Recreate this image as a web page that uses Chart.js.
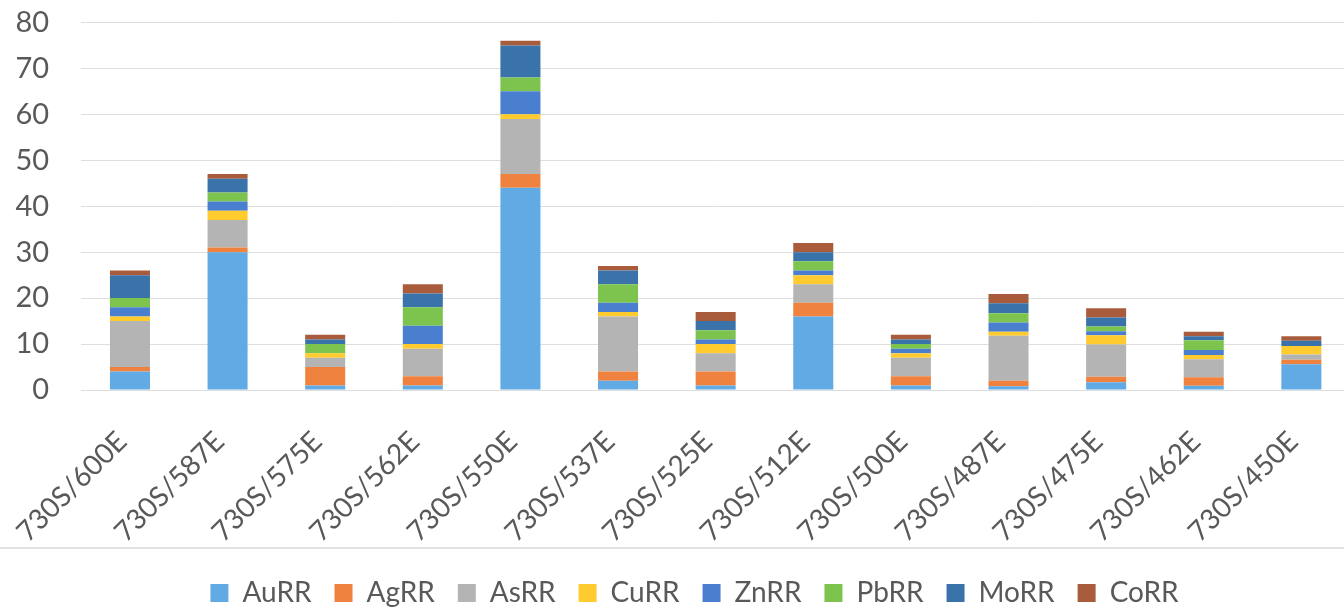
<!DOCTYPE html>
<html>
<head>
<meta charset="utf-8">
<script src="https://cdn.jsdelivr.net/npm/chart.js@4/dist/chart.umd.min.js"></script>
<style>
  html, body { margin: 0; padding: 0; background: #ffffff; overflow: hidden; }
  #wrap { position: relative; width: 1344px; height: 612px; overflow: hidden; }
  #c { position: absolute; left: 0; top: -27px; }
</style>
</head>
<body>
<div id="wrap"><canvas id="c" width="1352" height="644"></canvas></div>
<script>
// Sample stations along line 730S
const categories = ['730S/600E','730S/587E','730S/575E','730S/562E','730S/550E','730S/537E','730S/525E','730S/512E','730S/500E','730S/487E','730S/475E','730S/462E','730S/450E'];

// Relative responses per element
const auRR = [4, 30, 1, 1, 44, 2, 1, 16, 1, 0.8, 1.7, 0.9, 5.6];
const agRR = [1, 1, 4, 2, 3, 2, 3, 3, 2, 1.2, 1.2, 1.9, 1];
const asRR = [10, 6, 2, 6, 12, 12, 4, 4, 4, 9.8, 7, 3.9, 1.1];
const cuRR = [1, 2, 1, 1, 1, 1, 2, 2, 1, 0.9, 2, 0.9, 1.9];
const znRR = [2, 2, 0, 4, 5, 2, 1, 1, 1, 2, 0.9, 1.1, 0];
const pbRR = [2, 2, 2, 4, 3, 4, 2, 2, 1, 2, 1, 2.1, 0];
const moRR = [5, 3, 1, 3, 7, 3, 2, 2, 1, 2.2, 2, 0.9, 1.1];
const coRR = [1, 1, 1, 2, 1, 1, 2, 2, 1, 2, 2, 1, 1];

const yTicks = [0, 10, 20, 30, 40, 50, 60, 70, 80];

const seriesNames = ['AuRR', 'AgRR', 'AsRR', 'CuRR', 'ZnRR', 'PbRR', 'MoRR', 'CoRR'];
const seriesData = [auRR, agRR, asRR, cuRR, znRR, pbRR, moRR, coRR];
const seriesColors = ['#62aae4', '#f08240', '#b4b4b4', '#ffcb2e', '#4a7fd0', '#7cc44e', '#3a73aa', '#a85c3c'];

const FONT = 'Lato, "Open Sans", "Liberation Sans", sans-serif';
const TEXT = '#595959';

// Thin divider between the plot and the legend; also lets the value
// labels use the space left of the narrow y-axis box.
const divider = {
  id: 'divider',
  afterLayout(chart) {
    chart.scales.y.left = 0;
  },
  beforeDraw(chart) {
    const ctx = chart.ctx;
    const y = chart.scales.x.bottom - 8;
    ctx.save();
    ctx.strokeStyle = '#d9d9d9';
    ctx.lineWidth = 1.5;
    ctx.beginPath();
    ctx.moveTo(0, y);
    ctx.lineTo(chart.width, y);
    ctx.stroke();
    ctx.restore();
  }
};

new Chart(document.getElementById('c'), {
  type: 'bar',
  data: {
    labels: categories,
    datasets: seriesNames.map((name, i) => ({
      label: name,
      data: seriesData[i],
      backgroundColor: seriesColors[i],
      borderWidth: 0,
      categoryPercentage: 1,
      barPercentage: 0.41
    }))
  },
  options: {
    responsive: false,
    devicePixelRatio: 1,
    animation: false,
    layout: { padding: { top: 6, right: 1, bottom: 0, left: 38 } },
    scales: {
      x: {
        stacked: true,
        grid: { display: false },
        border: { display: false },
        ticks: {
          color: TEXT,
          font: { family: FONT, size: 28 },
          minRotation: 45,
          maxRotation: 45,
          padding: 27,
          labelOffset: -8
        },
        afterFit(scale) { scale.height = 166; }
      },
      y: {
        stacked: true,
        min: 0,
        max: 80,
        afterBuildTicks(scale) { scale.ticks = yTicks.map(v => ({ value: v })); },
        grid: { color: '#dedede', lineWidth: 1, drawTicks: false },
        border: { display: false },
        ticks: {
          color: TEXT,
          font: { family: FONT, size: 29 },
          padding: 32
        },
        afterFit(scale) { scale.width = 39; }
      }
    },
    plugins: {
      legend: {
        position: 'bottom',
        labels: {
          color: TEXT,
          font: { family: FONT, size: 28 },
          boxWidth: 18,
          boxHeight: 18,
          padding: 23
        }
      },
      tooltip: { enabled: false }
    }
  },
  plugins: [divider]
});
</script>
</body>
</html>
